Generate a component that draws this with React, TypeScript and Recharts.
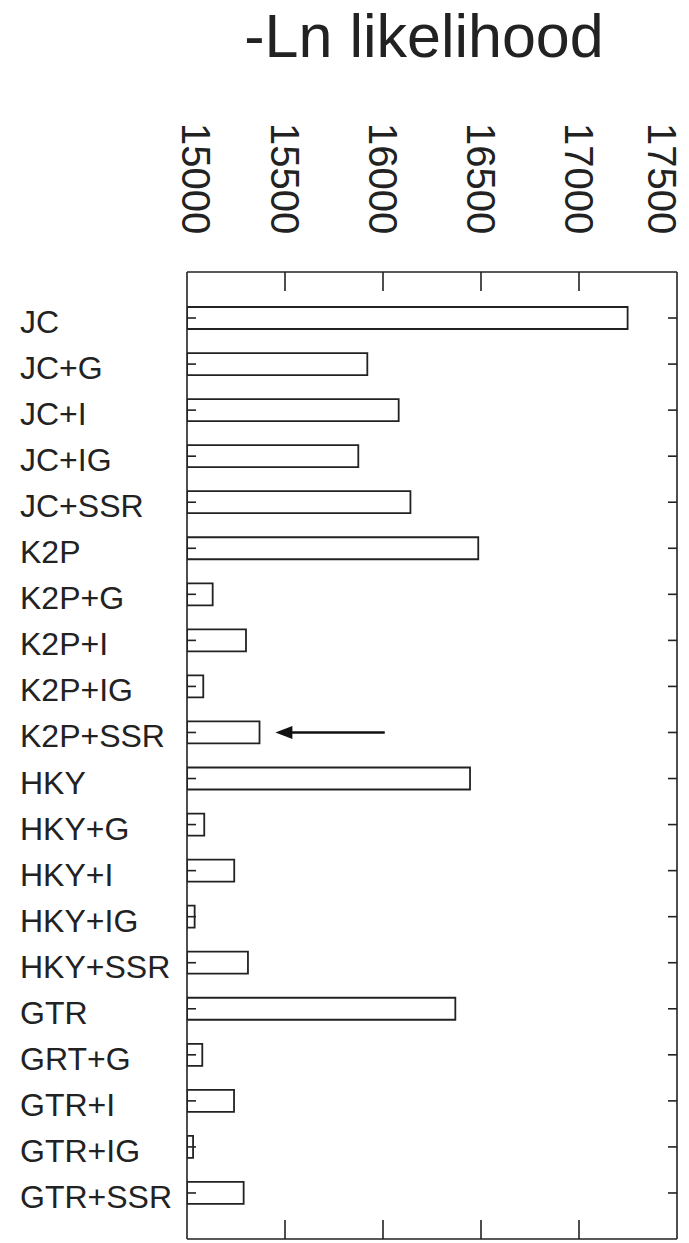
import React from 'react';
import { BarChart, Bar, XAxis, YAxis, ReferenceLine } from 'recharts';

// model names, top to bottom (the "GRT+G" typo is in the original figure)
const models = [
  'JC', 'JC+G', 'JC+I', 'JC+IG', 'JC+SSR',
  'K2P', 'K2P+G', 'K2P+I', 'K2P+IG', 'K2P+SSR',
  'HKY', 'HKY+G', 'HKY+I', 'HKY+IG', 'HKY+SSR',
  'GTR', 'GRT+G', 'GTR+I', 'GTR+IG', 'GTR+SSR',
];

// -ln likelihood
const lnL = [
  17248, 15920, 16080, 15874, 16140,
  16486, 15131, 15301, 15083, 15370,
  16444, 15088, 15241, 15039, 15311,
  16369, 15078, 15240, 15031, 15289,
];

const xTicks = [15000, 15500, 16000, 16500, 17000, 17500];
const innerTicks = [15500, 16000, 16500, 17000];
const xDomain: [number, number] = [15000, 17500];

// arrow pointing at K2P+SSR
const arrowRow = 'K2P+SSR';
const arrowFrom = 16009;
const arrowTo = 15451;

const data = models.map((name, i) => ({ name, value: lnL[i] }));

const INK = '#222';
const FONT = '"Liberation Sans", Arial, sans-serif';

// rotated labels above the frame; the end ones are pulled inward so they stay on the page
const TopTick = (props: any) => {
  const { x, y, payload } = props;
  const cx = Math.min(Math.max(x, 196), 662);
  return (
    <text
      transform={`translate(${cx},${y - 149}) rotate(90)`}
      textAnchor="start"
      dy="0.36em"
      fontSize={40}
      fontFamily={FONT}
      fill={INK}
    >
      {payload.value}
    </text>
  );
};

const ModelTick = (props: any) => {
  const { x, y, payload } = props;
  return (
    <text x={x - 167} y={y + 15} textAnchor="start" fontSize={32} fontFamily={FONT} fill={INK}>
      {payload.value}
    </text>
  );
};

const Arrow = (props: any) => {
  const { x1, y1, x2, y2 } = props;
  if (x1 == null) return null;
  const dir = x2 < x1 ? 1 : -1;
  return (
    <g>
      <line x1={x1} y1={y1} x2={x2 + dir * 12} y2={y2} stroke="#111" strokeWidth={2.5} />
      <polygon
        points={`${x2},${y2} ${x2 + dir * 17},${y2 - 6.5} ${x2 + dir * 17},${y2 + 6.5}`}
        fill="#111"
      />
    </g>
  );
};

const blank = () => '';

export default function App() {
  return (
    <div style={{ position: 'absolute', left: 0, top: 0, width: 689, height: 1243, background: '#fff' }}>
      <div
        style={{
          position: 'absolute',
          left: 0,
          width: 848,
          top: 4,
          textAlign: 'center',
          fontFamily: FONT,
          fontSize: 61,
          color: INK,
          lineHeight: '64px',
        }}
      >
        -Ln likelihood
      </div>
      <BarChart
        width={689}
        height={1243}
        data={data}
        layout="vertical"
        margin={{ top: 232, right: 12, bottom: 4, left: 0 }}
      >
        <XAxis
          xAxisId="lab"
          type="number"
          orientation="top"
          domain={xDomain}
          ticks={xTicks}
          allowDataOverflow
          height={40}
          axisLine={false}
          tickLine={false}
          tickSize={0}
          tickMargin={0}
          tick={<TopTick />}
        />
        <XAxis
          xAxisId="top"
          type="number"
          orientation="top"
          mirror
          domain={xDomain}
          ticks={innerTicks}
          allowDataOverflow
          tickSize={19}
          tickFormatter={blank}
          axisLine={{ stroke: INK, strokeWidth: 1.6 }}
          tickLine={{ stroke: INK, strokeWidth: 1.6 }}
        />
        <XAxis
          xAxisId="bottom"
          type="number"
          orientation="bottom"
          mirror
          domain={xDomain}
          ticks={innerTicks}
          allowDataOverflow
          tickSize={19}
          tickFormatter={blank}
          axisLine={{ stroke: INK, strokeWidth: 1.6 }}
          tickLine={{ stroke: INK, strokeWidth: 1.6 }}
        />
        <YAxis
          yAxisId="lab"
          type="category"
          dataKey="name"
          width={187}
          padding={{ top: 23, bottom: 23 }}
          axisLine={false}
          tickLine={false}
          tickSize={0}
          tickMargin={0}
          interval={0}
          tick={<ModelTick />}
        />
        <YAxis
          yAxisId="left"
          type="category"
          dataKey="name"
          orientation="left"
          mirror
          padding={{ top: 23, bottom: 23 }}
          interval={0}
          tickSize={9}
          tickFormatter={blank}
          axisLine={{ stroke: INK, strokeWidth: 1.6 }}
          tickLine={{ stroke: INK, strokeWidth: 1.6 }}
        />
        <YAxis
          yAxisId="right"
          type="category"
          dataKey="name"
          orientation="right"
          mirror
          padding={{ top: 23, bottom: 23 }}
          interval={0}
          tickSize={9}
          tickFormatter={blank}
          axisLine={{ stroke: INK, strokeWidth: 1.6 }}
          tickLine={{ stroke: INK, strokeWidth: 1.6 }}
        />
        <Bar
          xAxisId="lab"
          yAxisId="lab"
          dataKey="value"
          barSize={22}
          fill="#fff"
          stroke={INK}
          strokeWidth={1.8}
          isAnimationActive={false}
        />
        <ReferenceLine
          xAxisId="lab"
          yAxisId="lab"
          segment={[{ x: arrowFrom, y: arrowRow }, { x: arrowTo, y: arrowRow }]}
          shape={<Arrow />}
        />
      </BarChart>
    </div>
  );
}
